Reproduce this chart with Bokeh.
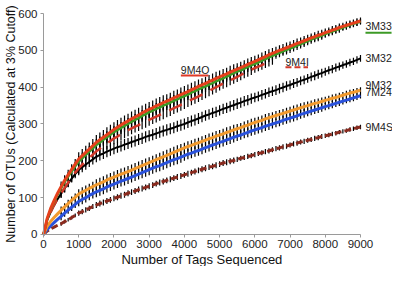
import math
from bokeh.plotting import figure
from bokeh.models import ColumnDataSource, Range1d, FixedTicker, Label
from bokeh.embed import file_html
from bokeh.resources import INLINE
from bokeh.core.properties import value

# ---------------- data ----------------
tags = list(range(0, 9001, 100))
x_ticks = list(range(0, 9001, 1000))
y_ticks = list(range(0, 601, 100))

otu_9M4O = [0, 42, 70, 92, 112, 130, 147, 162, 177, 191, 205,
            214, 223, 232, 241, 250, 257, 264, 271, 278, 285,
            291, 297, 303, 308, 314, 319, 324, 330, 335, 340,
            344, 349, 353, 358, 362, 366, 371, 375, 380, 384,
            388, 393, 397, 402, 406, 410, 415, 419, 424, 428,
            432, 436, 441, 445, 449, 453, 457, 462, 466, 470,
            474, 479, 483, 488, 492, 496, 500, 503, 507, 511,
            515, 519, 522, 526, 530, 534, 537, 541, 544, 548,
            551, 555, 558, 562, 565, 568, 571, 574, 577, 580]
otu_3M33 = [0, 40, 67, 89, 108, 126, 142, 157, 171, 185, 198,
            207, 216, 225, 234, 243, 250, 257, 264, 271, 278,
            284, 289, 295, 300, 306, 311, 316, 322, 327, 332,
            336, 341, 345, 350, 354, 358, 363, 367, 372, 376,
            380, 385, 389, 394, 398, 402, 407, 411, 416, 420,
            424, 429, 433, 438, 442, 446, 450, 455, 459, 463,
            467, 472, 476, 481, 485, 489, 493, 497, 501, 505,
            509, 513, 517, 521, 525, 529, 533, 536, 540, 544,
            548, 551, 555, 558, 562, 565, 569, 572, 575, 578]
otu_9M4I = [0, 36, 60, 80, 97, 112, 127, 141, 155, 168, 180,
            190, 199, 208, 217, 226, 233, 240, 247, 254, 261,
            266, 272, 277, 283, 288, 293, 297, 302, 306, 311,
            316, 320, 325, 329, 334, 338, 343, 347, 352, 356,
            361, 366, 370, 375, 380, 385, 390, 395, 400, 405,
            410, 414, 419, 423, 428, 433, 438, 442, 447, 452,
            456, 460, 465, 469, 473]
otu_3M32 = [0, 38, 60, 79, 96, 111, 125, 139, 152, 164, 175,
            183, 190, 197, 204, 211, 216, 220, 225, 229, 233,
            237, 240, 244, 247, 251, 254, 258, 261, 265, 268,
            271, 274, 278, 281, 284, 287, 290, 294, 297, 300,
            304, 308, 311, 315, 319, 323, 326, 330, 333, 337,
            341, 344, 348, 351, 355, 358, 362, 365, 369, 372,
            375, 379, 382, 386, 389, 392, 396, 399, 403, 406,
            410, 413, 417, 420, 424, 428, 431, 435, 438, 442,
            446, 449, 453, 456, 460, 463, 467, 470, 474, 478]
otu_9M32 = [0, 22, 35, 46, 56, 66, 75, 84, 93, 101, 110,
            115, 120, 125, 130, 135, 139, 143, 148, 152, 156,
            160, 164, 167, 171, 175, 179, 183, 187, 191, 195,
            199, 203, 207, 211, 215, 219, 223, 227, 231, 235,
            239, 242, 246, 249, 253, 256, 260, 263, 267, 270,
            273, 277, 280, 284, 287, 290, 294, 297, 301, 304,
            307, 310, 314, 317, 320, 323, 326, 329, 332, 335,
            338, 341, 344, 347, 350, 353, 356, 358, 361, 364,
            367, 370, 372, 375, 378, 381, 384, 386, 389, 392]
otu_7M24 = [0, 13, 23, 32, 41, 49, 58, 66, 74, 82, 90,
            95, 100, 106, 111, 116, 120, 124, 129, 133, 137,
            141, 145, 148, 152, 156, 160, 164, 168, 172, 176,
            180, 184, 187, 191, 195, 199, 203, 206, 210, 214,
            218, 221, 225, 228, 232, 236, 239, 243, 246, 250,
            253, 257, 260, 264, 267, 270, 274, 277, 281, 284,
            287, 290, 294, 297, 300, 303, 306, 310, 313, 316,
            319, 322, 326, 329, 332, 335, 338, 341, 344, 347,
            350, 353, 356, 359, 362, 365, 368, 371, 374, 377]
otu_9M4S = [0, 9, 15, 20, 25, 29, 35, 40, 46, 52, 58,
            62, 67, 71, 76, 80, 84, 87, 91, 94, 98,
            101, 105, 108, 112, 115, 118, 122, 125, 128, 131,
            134, 138, 141, 144, 147, 150, 153, 156, 159, 162,
            165, 168, 171, 174, 177, 180, 183, 185, 188, 191,
            194, 196, 199, 201, 204, 207, 209, 212, 214, 217,
            220, 222, 225, 227, 230, 233, 235, 238, 240, 243,
            246, 248, 251, 253, 256, 258, 261, 263, 266, 268,
            270, 273, 275, 278, 280, 282, 285, 287, 290, 292]

# half-height of the error bars, one value per 500 tags
err_9M4O = [0, 14, 18, 20, 20, 20, 20, 19, 19, 18, 17, 16, 15, 14, 13, 12, 11, 10, 9]
err_3M33 = [0, 12, 15, 16, 16, 16, 16, 16, 15, 15, 14, 14, 13, 12, 12, 11, 10, 9, 8]
err_9M4I = [0, 12, 15, 16, 16, 16, 16, 16, 15, 15, 14, 14, 13, 12]
err_3M32 = [0, 11, 14, 15, 15, 15, 15, 15, 15, 14, 14, 14, 13, 13, 12, 12, 11, 10, 9]
err_9M32 = [0, 10, 13, 15, 15, 15, 15, 15, 14, 14, 14, 13, 13, 12, 12, 11, 10, 9, 8]
err_7M24 = [0, 10, 13, 15, 15, 15, 15, 15, 14, 14, 14, 13, 13, 12, 12, 11, 10, 9, 8]
err_9M4S = [0, 5, 7, 8, 8, 8, 8, 8, 8, 8, 8, 7, 7, 7, 7, 7, 6, 6, 6]

FONT = "Liberation Sans"

# the frame fills the whole canvas; axes sit at x=0 / y=0 inside it
p = figure(width=392, height=266, output_backend="svg", toolbar_location=None,
           x_range=Range1d(-1221, 9909), y_range=Range1d(-86.9, 635.3),
           min_border=0)
p.outline_line_color = None
p.xgrid.visible = False
p.ygrid.visible = False
p.background_fill_color = "white"
p.border_fill_color = "white"

for ax in (p.xaxis[0], p.yaxis[0]):
    ax.fixed_location = 0
    ax.axis_line_color = "#9a9a9a"
    ax.major_tick_line_color = "#9a9a9a"
    ax.minor_tick_line_color = None
    ax.major_tick_out = 3
    ax.major_tick_in = 0
    ax.major_label_text_font = FONT
    ax.major_label_text_font_size = "11.5px"
    ax.major_label_text_color = "#222222"
    ax.major_label_standoff = 3

p.xaxis.bounds = (0, 9000)
p.yaxis.bounds = (0, 600)
p.xaxis.ticker = FixedTicker(ticks=x_ticks)
p.yaxis.ticker = FixedTicker(ticks=y_ticks)

# axis titles
p.add_layout(Label(x=4500, y=-67.9, text="Number of Tags Sequenced",
                   text_font=FONT, text_font_size="13px", text_color="#111111",
                   text_align="center", text_baseline="middle"))
p.add_layout(Label(x=-937, y=300, angle=math.pi / 2,
                   text="Number of OTUs (Calculated at 3% Cutoff)",
                   text_font=FONT, text_font_size="12.5px", text_color="#111111",
                   text_align="center", text_baseline="middle"))


def bars(vals, errs):
    n = len(vals)
    e = [errs[i // 5] for i in range(n)]
    src = ColumnDataSource(dict(x=tags[:n],
                                lo=[v - d for v, d in zip(vals, e)],
                                hi=[v + d for v, d in zip(vals, e)]))
    p.segment(x0="x", y0="lo", x1="x", y1="hi", source=src,
              line_color="black", line_width=1.2)


series = [
    (otu_9M4S, err_9M4S, "#8a2a1e", 3.0, "7 3"),
    (otu_7M24, err_7M24, "#2a52dc", 3.0, "solid"),
    (otu_9M32, err_9M32, "#f29a2e", 3.0, "solid"),
    (otu_3M32, err_3M32, "#000000", 2.0, "solid"),
    (otu_9M4I, err_9M4I, "#d2392a", 2.5, "14 9"),
    (otu_3M33, err_3M33, "#3c9a26", 2.5, "solid"),
    (otu_9M4O, err_9M4O, "#e6401c", 3.0, "solid"),
]
for vals, errs, *_ in series:
    bars(vals, errs)
for vals, errs, color, w, dash in series:
    p.line(tags[:len(vals)], vals, line_color=color, line_width=w, line_dash=dash)

# ---------------- labels ----------------
LAB_X = 9000 + 142
names = ["3M33", "3M32", "9M32", "7M24", "9M4S"]
ends = [otu_3M33[-1], otu_3M32[-1], otu_9M32[-1], otu_7M24[-1], otu_9M4S[-1]]
shift = [-13, 0, 15, 10, 0]
lab_src = ColumnDataSource(dict(x=[LAB_X] * len(names),
                                y=[e + s for e, s in zip(ends, shift)],
                                t=names))
p.text(x="x", y="y", text="t", source=lab_src, text_font=value(FONT),
       text_font_size="10.5px", text_color="#222222",
       text_align="left", text_baseline="middle")

# 3M33 underline (green)
u_y = otu_3M33[-1] - 13 - 17
p.segment(x0=[LAB_X], y0=[u_y], x1=[LAB_X + 740], y1=[u_y],
          line_color="#3c9a26", line_width=2)

# 9M4O label above its curve
o_x = tags[39]
o_y = otu_9M4O[39] + 67
p.text(x=[o_x], y=[o_y], text=["9M4O"], text_font=value(FONT),
       text_font_size="10.5px", text_color="#222222",
       text_align="left", text_baseline="middle")
p.segment(x0=[o_x], y0=[o_y - 15], x1=[o_x + 780], y1=[o_y - 15],
          line_color="#e03a26", line_width=2)

# 9M4I label at the end of its curve
i_x = tags[len(otu_9M4I) - 1] + 370
i_y = otu_9M4I[-1] - 4
p.text(x=[i_x], y=[i_y], text=["9M4I"], text_font=value(FONT),
       text_font_size="10.5px", text_color="#222222",
       text_align="left", text_baseline="middle")
p.segment(x0=[i_x], y0=[i_y - 15], x1=[i_x + 640], y1=[i_y - 15],
          line_color="#d2392a", line_width=2, line_dash="6 3")

open("out.html", "w").write(file_html(p, INLINE))
